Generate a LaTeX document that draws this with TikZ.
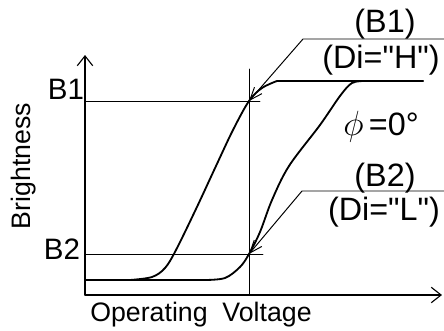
\documentclass[tikz,border=0pt]{standalone}
\usepackage{fontspec}
\setmainfont{Liberation Sans}[Ligatures=TeXOff]
\usetikzlibrary{arrows.meta}

\tikzset{
  axis/.style={line width=.8pt, -{Straight Barb[length=7pt,width=11pt]}},
  curve/.style={line width=1.3pt},
  thin/.style={line width=.7pt},
  leader/.style={line width=.7pt, -{Straight Barb[length=9pt,width=7pt]}},
  big/.style={anchor=base, font=\fontsize{23}{26}\selectfont},
}

\begin{document}
\begin{tikzpicture}[line cap=round, line join=round]
      \useasboundingbox (0,0) rectangle (11.1,8.275);
      % axes
      \coordinate (O) at (2.125,.9);
      \coordinate (Yt) at (2.125,6.9);
      \coordinate (Xt) at (11.05,.9);
      \draw[axis] (O) -- (Yt);
      \draw[axis] (O) -- (Xt);
      \node (By) at (.6,4.125) [rotate=90, font=\fontsize{19}{22}\selectfont] {Brightness};
      \node (Vx) at (5.025,.225) [anchor=base, font=\fontsize{19}{22}\selectfont] {Operating\ \ Voltage};
      % levels
      \coordinate (P1) at (6.225,5.75);
      \coordinate (P2) at (6.225,1.925);
      \coordinate (V0) at (6.225,.9);
      \coordinate (V1) at (6.225,6.55);
      \draw[thin] (V0) -- (V1);
      \draw[thin] (2.125,5.75) -- (6.5,5.75);
      \draw[thin] (2.125,1.925) -- (6.575,1.925);
      \node (L1) at (1.65,5.775) [anchor=base, font=\fontsize{21}{24}\selectfont] {B1};
      \node (L2) at (1.55,1.8) [anchor=base, font=\fontsize{21}{24}\selectfont] {B2};
      % Di="H"
      \draw[curve] (2.125,1.275) -- plot[smooth, tension=.55] coordinates {(3.25,1.275) (3.8,1.35) (4.125,1.575) (4.4,2.025) (4.9,3.05) (5.4,4.125) (5.825,5.025) (6.225,5.75) (6.55,6.075) (6.925,6.25)} -- (10.575,6.25);
      % Di="L"
      \draw[curve] (2.125,1.275) -- plot[smooth, tension=.55] coordinates {(5.125,1.275) (5.625,1.325) (6,1.6) (6.225,1.925) (6.5,2.475) (6.8,3.275) (7.225,4.125) (8,5.15) (8.5,5.875) (8.8,6.2) (9.125,6.25)} -- (10.575,6.25);
      % callouts
      \coordinate (E1) at (11.1,7.3);
      \coordinate (K1) at (7.575,7.3);
      \coordinate (E2) at (11.1,3.5);
      \coordinate (K2) at (7.55,3.5);
      \draw[leader] (E1) -- (K1) -- (P1);
      \draw[leader] (E2) -- (K2) -- (P2);
      \node (T1) at (9.625,7.45) [big] {(B1)};
      \node (D1) at (9.525,6.575) [big] {(Di="H")};
      \node (T2) at (9.625,3.6) [big] {(B2)};
      \node (D2) at (9.6,2.775) [big] {(Di="L")};
      \node (Ph) at (9.525,4.9) [big] {$\phi$\,=0°};
    \end{tikzpicture}
\end{document}
